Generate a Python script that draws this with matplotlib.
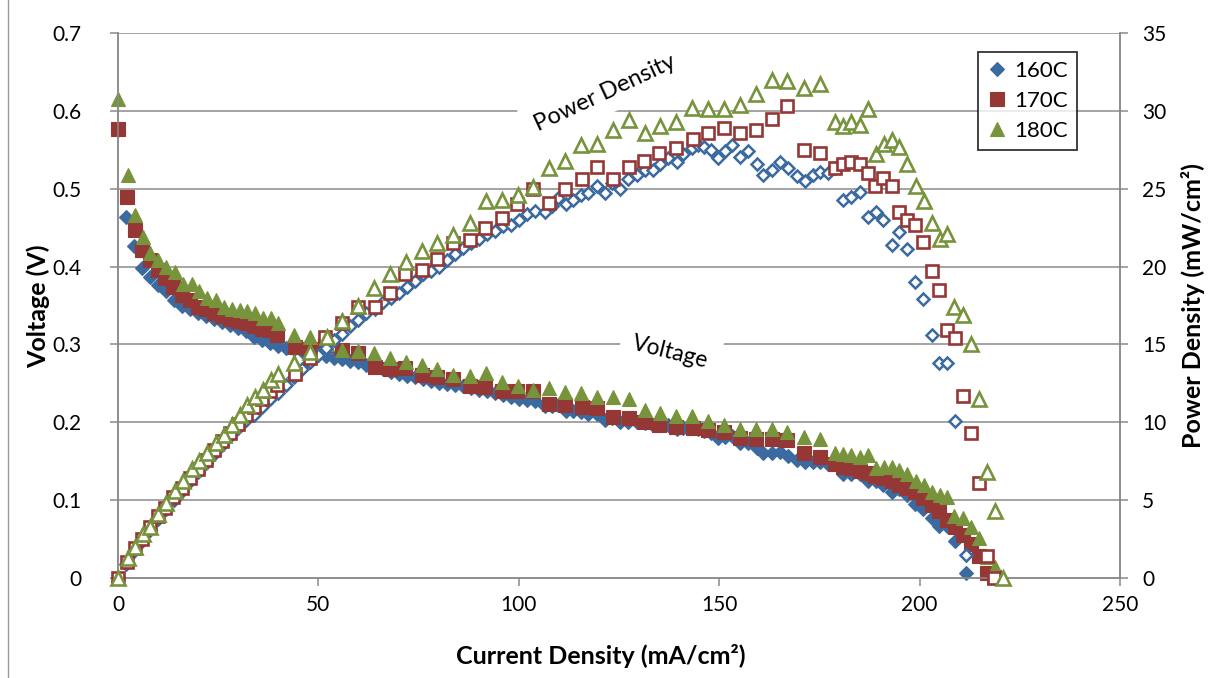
import matplotlib
matplotlib.use("Agg")
import matplotlib.pyplot as plt
from matplotlib.lines import Line2D

# ---------------- data ----------------
I160 = [0, 2, 4, 6, 8, 10, 12, 14, 16, 18, 20, 22, 24, 26, 28, 30, 32, 34, 36, 38, 40,
        42, 44, 46, 48, 50, 52, 54, 56, 58, 60, 62, 64, 66, 68, 70, 72, 74, 76, 78, 80,
        82, 84, 86, 88, 90, 92, 94, 96, 98, 100, 102, 104,
        106.5, 108.2, 109.9, 111.8, 113.6, 115.5, 117.3, 119.4, 121.5, 123.2, 125.2, 127.3,
        129.4, 131.5, 133.6, 135.2, 137.3, 139.4, 141.0, 143.1, 144.8, 146.2, 148.0, 149.6,
        151.4, 153.1, 155.2, 157.3, 159.4, 161.0, 163.1, 165.2, 167.2, 169.3, 171.4, 173.5,
        175.1, 177.2, 178.9, 181.0, 183.0, 185.1, 187.2, 189.1, 190.9, 193.0, 194.9, 196.9,
        198.9, 200.9, 203.0, 204.9, 206.9, 208.8, 211.5]
V160 = [0.575, 0.464, 0.427, 0.398, 0.386, 0.376, 0.368, 0.357, 0.350, 0.345, 0.341, 0.337,
        0.333, 0.329, 0.325, 0.321, 0.317, 0.309, 0.306, 0.302, 0.298, 0.296, 0.294, 0.291,
        0.289, 0.287, 0.285, 0.283, 0.281, 0.279, 0.277, 0.274, 0.271, 0.268, 0.265, 0.262,
        0.260, 0.258, 0.256, 0.253, 0.250, 0.249, 0.248, 0.246, 0.244, 0.242, 0.240, 0.237,
        0.235, 0.232, 0.230, 0.229, 0.227,
        0.221, 0.221, 0.222, 0.215, 0.214, 0.213, 0.211, 0.211, 0.203, 0.206, 0.200, 0.201,
        0.200, 0.199, 0.196, 0.197, 0.196, 0.192, 0.193, 0.193, 0.192, 0.189, 0.186, 0.180,
        0.181, 0.182, 0.174, 0.174, 0.167, 0.161, 0.161, 0.162, 0.157, 0.152, 0.149, 0.149,
        0.149, 0.147, 0.147, 0.134, 0.134, 0.134, 0.124, 0.124, 0.120, 0.111, 0.114, 0.107,
        0.0955, 0.089, 0.077, 0.067, 0.067, 0.048, 0.007]
P160 = [0.0, 0.93, 1.71, 2.39, 3.09, 3.76, 4.42, 5.0, 5.6, 6.21, 6.82, 7.41, 7.99, 8.55,
        9.1, 9.63, 10.14, 10.5, 11.0, 11.5, 11.9, 12.4, 12.9, 13.4, 13.9, 14.35, 14.8, 15.3,
        15.7, 16.2, 16.6, 17.0, 17.3, 17.7, 18.0, 18.3, 18.7, 19.1, 19.5, 19.7, 20.0, 20.4,
        20.8, 21.2, 21.5, 21.8, 22.1, 22.3, 22.6, 22.7, 23.0, 23.4, 23.6,
        23.5, 23.9, 24.4, 24.0, 24.3, 24.6, 24.7, 25.2, 24.7, 25.35, 25.0, 25.6,
        25.9, 26.2, 26.2, 26.6, 26.95, 26.7, 27.2, 27.6, 27.8, 27.7, 27.5, 26.95,
        27.4, 27.8, 27.06, 27.4, 26.6, 25.9, 26.2, 26.7, 26.3, 25.8, 25.5, 25.9,
        26.1, 26.0, 26.3, 24.3, 24.5, 24.8, 23.2, 23.5, 23.0, 21.4, 22.2, 21.1,
        19.0, 17.9, 15.6, 13.8, 13.8, 10.1, 1.5]

I170 = [0, 2.2, 4.2, 5.9, 8, 10, 11.7, 13.8, 15.9, 18, 20, 22, 24, 26, 28, 30, 32, 34, 36,
        37.8, 39.6, 44.2, 47.9, 51.6, 55.8, 60, 64.1, 67.9, 71.6, 75.8, 79.5, 83.7, 87.8,
        91.6, 95.7, 99.5, 103.6, 107.6, 111.5, 115.7, 119.4, 123.4, 127.5, 131.3, 135.1,
        139.2, 143.4, 147.3, 151.1, 155.2, 159.1, 163.1, 166.9, 171.2, 175.1, 178.9, 181.0,
        183.0, 185.1, 187.2, 188.9, 190.9, 193.0, 194.9, 196.8, 198.9, 200.9, 203.0, 204.9,
        206.8, 208.8, 210.8, 212.7, 214.9, 216.7, 218.5]
V170 = [0.577, 0.490, 0.447, 0.421, 0.408, 0.396, 0.385, 0.374, 0.363, 0.357, 0.348, 0.345,
        0.341, 0.337, 0.333, 0.330, 0.327, 0.324, 0.320, 0.318, 0.312, 0.297, 0.294, 0.299,
        0.293, 0.289, 0.271, 0.269, 0.270, 0.261, 0.258, 0.256, 0.246, 0.245, 0.240, 0.240,
        0.240, 0.223, 0.222, 0.220, 0.218, 0.207, 0.206, 0.201, 0.197, 0.194, 0.193, 0.190,
        0.187, 0.180, 0.178, 0.178, 0.177, 0.160, 0.156, 0.146, 0.143, 0.141, 0.138, 0.135,
        0.131, 0.129, 0.125, 0.119, 0.115, 0.111, 0.103, 0.094, 0.086, 0.074, 0.065, 0.055,
        0.044, 0.028, 0.007, 0.001]
P170 = [0.0, 1.0, 1.9, 2.5, 3.3, 4.0, 4.5, 5.2, 5.8, 6.4, 7.0, 7.6, 8.2, 8.8, 9.3, 9.9,
        10.5, 11.0, 11.5, 12.0, 12.4, 13.1, 14.1, 15.5, 16.4, 17.4, 17.4, 18.3, 19.5, 19.8,
        20.5, 21.5, 21.7, 22.5, 23.1, 24.0, 25.0, 24.1, 25.0, 25.6, 26.4, 25.6, 26.4, 26.8,
        27.3, 27.6, 28.2, 28.6, 28.9, 28.6, 28.8, 29.5, 30.3, 27.5, 27.3, 26.3, 26.6, 26.7,
        26.6, 26.0, 25.2, 25.7, 25.2, 23.5, 23.0, 22.7, 21.6, 19.7, 18.5, 15.9, 15.4, 11.7,
        9.3, 6.1, 1.4, 0.0]

I180 = [0, 2.6, 4.2, 6.3, 8, 10, 12.1, 14.2, 16.3, 18.4, 20.3, 22.3, 24.4, 26.4, 28.4, 30.4,
        32.3, 34.2, 36.1, 38.1, 40, 44.0, 47.9, 52.1, 56.0, 60, 63.8, 67.9, 71.8, 75.8, 79.5,
        83.7, 87.8, 91.8, 95.7, 99.7, 103.6, 107.6, 111.5, 115.5, 119.4, 123.4, 127.4, 131.5,
        135.3, 139.2, 143.2, 147.3, 151.2, 155.2, 159.1, 163.2, 167.0, 171.1, 175.1, 178.9,
        181.0, 183.0, 185.1, 187.2, 189.2, 191.1, 193.0, 194.9, 196.8, 199.0, 201.0, 203.0,
        205.0, 206.8, 208.7, 210.8, 212.7, 214.9, 216.9, 218.8, 220.7]
V180 = [0.615, 0.518, 0.466, 0.438, 0.418, 0.408, 0.400, 0.393, 0.378, 0.378, 0.368, 0.359,
        0.357, 0.348, 0.346, 0.344, 0.343, 0.340, 0.334, 0.334, 0.328, 0.312, 0.309, 0.301,
        0.293, 0.291, 0.289, 0.282, 0.278, 0.274, 0.268, 0.261, 0.259, 0.263, 0.252, 0.246,
        0.242, 0.244, 0.239, 0.238, 0.232, 0.232, 0.230, 0.216, 0.212, 0.208, 0.208, 0.202,
        0.197, 0.192, 0.191, 0.191, 0.187, 0.181, 0.178, 0.161, 0.159, 0.158, 0.156, 0.158,
        0.141, 0.143, 0.142, 0.139, 0.134, 0.124, 0.119, 0.111, 0.107, 0.104, 0.079, 0.077,
        0.066, 0.051, 0.027, 0.0145, 0.0]
P180 = [0.0, 1.3, 2.0, 2.8, 3.3, 4.1, 4.8, 5.6, 6.2, 7.0, 7.5, 8.0, 8.7, 9.2, 9.8, 10.5,
        11.1, 11.6, 12.1, 12.7, 13.1, 13.8, 14.5, 15.5, 16.5, 17.5, 18.6, 19.5, 20.3, 21.0,
        21.5, 22.0, 22.8, 24.2, 24.3, 24.6, 25.1, 26.3, 26.8, 27.8, 27.9, 28.8, 29.4, 28.6,
        29.0, 29.3, 30.2, 30.1, 30.1, 30.4, 31.1, 32.0, 31.9, 31.5, 31.7, 29.3, 29.0, 29.3,
        29.1, 30.1, 27.2, 27.9, 28.1, 27.7, 26.6, 25.2, 24.2, 22.8, 21.8, 22.1, 17.4, 16.9,
        15.0, 11.5, 6.8, 4.3, 0.0]

labels = ["160C", "170C", "180C"]
x_ticks = [0, 50, 100, 150, 200, 250]
v_ticks = [0, 0.1, 0.2, 0.3, 0.4, 0.5, 0.6, 0.7]
v_ticklabels = ["0", "0.1", "0.2", "0.3", "0.4", "0.5", "0.6", "0.7"]
p_ticks = [0, 5, 10, 15, 20, 25, 30, 35]

# ---------------- style ----------------
plt.rcParams['font.family'] = ['Lato', 'DejaVu Sans']
BLUE = '#3B6AA0'
RED = '#953735'
GREEN = '#77933C'
GRID = '#8A8A8A'

W, H = 1221, 678
fig = plt.figure(figsize=(W / 100, H / 100), dpi=100)
fig.patch.set_facecolor('white')

L, R, B, T = 118, 1120, 578, 33
ax = fig.add_axes([L / W, 1 - B / H, (R - L) / W, (B - T) / H])
ax2 = ax.twinx()

ax.set_xlim(0, 250)
ax.set_ylim(0, 0.7)
ax2.set_ylim(0, 35)

# gridlines
for v in v_ticks[1:]:
    ax.axhline(v, color=GRID, lw=1.1, zorder=0.5)

for a in (ax, ax2):
    a.spines['top'].set_visible(False)
    for s in ('left', 'right', 'bottom'):
        a.spines[s].set_color(GRID)
        a.spines[s].set_linewidth(1.1)

TICK_FS = 15
ax.set_xticks(x_ticks)
ax.set_yticks(v_ticks)
ax.set_yticklabels(v_ticklabels)
ax2.set_yticks(p_ticks)
ax.tick_params(axis='x', direction='out', length=6, width=1.1, color=GRID,
               labelsize=TICK_FS, pad=6)
ax.tick_params(axis='y', direction='out', length=6, width=1.1, color=GRID,
               labelsize=TICK_FS, pad=20)
ax2.tick_params(axis='y', direction='out', length=6, width=1.1, color=GRID,
                labelsize=TICK_FS, pad=10)

# voltage (filled markers)
h1, = ax.plot(I160, V160, ls='none', marker='D', ms=7.2, mfc=BLUE, mec=BLUE, mew=0.8,
              zorder=3, clip_on=False)
h2, = ax.plot(I170, V170, ls='none', marker='s', ms=9.5, mfc=RED, mec=RED, mew=0.8,
              zorder=3.1, clip_on=False)
h3, = ax.plot(I180, V180, ls='none', marker='^', ms=10.5, mfc=GREEN, mec=GREEN, mew=0.8,
              zorder=3.2, clip_on=False)

# power density (hollow markers)
ax2.plot(I160, P160, ls='none', marker='D', ms=6.6, mfc='white', mec=BLUE, mew=1.8,
         zorder=3, clip_on=False)
ax2.plot(I170, P170, ls='none', marker='s', ms=8.6, mfc='white', mec=RED, mew=1.9,
         zorder=3.1, clip_on=False)
ax2.plot(I180, P180, ls='none', marker='^', ms=10.0, mfc='white', mec=GREEN, mew=1.9,
         zorder=3.2, clip_on=False)

# annotations
ax.text(121.5, 0.623, "Power Density", rotation=25, ha='center', va='center',
        fontsize=17, rotation_mode='anchor', zorder=2,
        bbox=dict(boxstyle='square,pad=0.45', fc='white', ec='none'))
ax.text(137.7, 0.290, "Voltage", rotation=-14, ha='center', va='center',
        fontsize=16.5, rotation_mode='anchor', zorder=2,
        bbox=dict(boxstyle='square,pad=0.5', fc='white', ec='none'))

# axis titles
TITLE_FS = 18
fig.text(601 / W, 1 - 656 / H, "Current Density (mA/cm²)", ha='center', va='center',
         fontsize=TITLE_FS, fontweight='bold')
fig.text(38 / W, 1 - 306 / H, "Voltage (V)", ha='center', va='center', rotation=90,
         fontsize=TITLE_FS, fontweight='bold')
fig.text(1193 / W, 1 - 306 / H, "Power Density (mW/cm²)", ha='center', va='center',
         rotation=90, fontsize=TITLE_FS, fontweight='bold')

# legend
leg = ax2.legend([h1, h2, h3], labels, loc='upper right',
                 bbox_to_anchor=((1077 - L) / (R - L), (B - 52) / (B - T)),
                 fontsize=16, frameon=True, fancybox=False, borderpad=0.4,
                 handlelength=0.9, handletextpad=0.35, labelspacing=0.45,
                 borderaxespad=0)
leg.get_frame().set_edgecolor('black')
leg.get_frame().set_linewidth(1.3)
leg.set_zorder(10)

# outer chart border (left edge)
fig.add_artist(Line2D([8 / W, 8 / W], [0, 1], color='#9A9A9A', lw=1.0))

fig.savefig("out.png", dpi=100)
